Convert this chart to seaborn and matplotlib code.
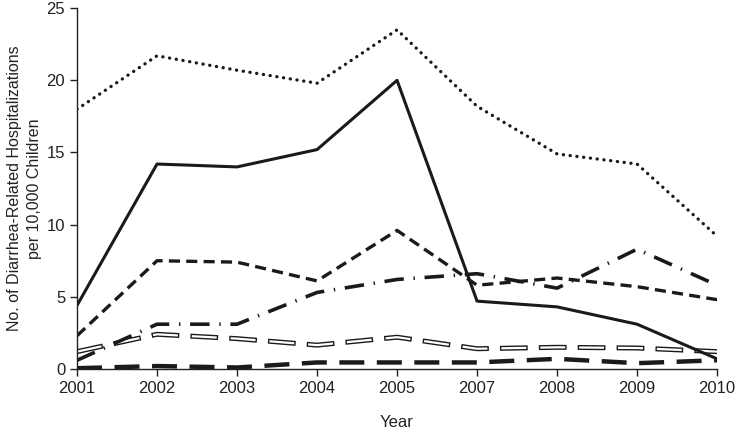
import pandas as pd
import seaborn as sns
import matplotlib.pyplot as plt

# data (2006 is absent in the source)
years = ['2001', '2002', '2003', '2004', '2005', '2007', '2008', '2009', '2010']
dotted = [18.0, 21.7, 20.7, 19.8, 23.5, 18.2, 14.9, 14.2, 9.2]
solid = [4.4, 14.2, 14.0, 15.2, 20.0, 4.7, 4.3, 3.1, 0.7]
short_dash = [2.3, 7.5, 7.4, 6.1, 9.6, 5.8, 6.3, 5.7, 4.8]
dash_dot = [0.6, 3.1, 3.1, 5.3, 6.2, 6.6, 5.6, 8.3, 5.8]
double_dash = [1.2, 2.4, 2.1, 1.65, 2.2, 1.4, 1.5, 1.45, 1.2]
long_dash = [0.05, 0.2, 0.1, 0.45, 0.45, 0.45, 0.7, 0.4, 0.6]

sns.set_style('ticks')
plt.rcParams['font.family'] = ['Liberation Sans', 'DejaVu Sans']
plt.rcParams['lines.scale_dashes'] = False

df = pd.DataFrame({'year': years, 'dotted': dotted, 'solid': solid,
                   'short_dash': short_dash, 'dash_dot': dash_dot,
                   'double_dash': double_dash, 'long_dash': long_dash})

fig = plt.figure(figsize=(7.37, 4.30), dpi=100)
ax = fig.add_axes([0.1045, 0.142, 0.8685, 0.839])

k = '#1a1a1a'
# outlined "double line" first so others sit above it
sns.lineplot(data=df, x='year', y='double_dash', ax=ax, color=k, lw=3.6,
             linestyle=(1, (20, 8)), dash_capstyle='butt', sort=False)
sns.lineplot(data=df, x='year', y='double_dash', ax=ax, color='white', lw=1.6,
             linestyle=(0, (18, 10)), dash_capstyle='butt', sort=False)
sns.lineplot(data=df, x='year', y='long_dash', ax=ax, color=k, lw=3.2,
             linestyle=(0, (18, 9)), sort=False)
sns.lineplot(data=df, x='year', y='dash_dot', ax=ax, color=k, lw=2.6,
             linestyle=(0, (14, 7, 1, 7)), sort=False)
sns.lineplot(data=df, x='year', y='short_dash', ax=ax, color=k, lw=2.4,
             linestyle=(0, (8, 4.5)), sort=False)
sns.lineplot(data=df, x='year', y='solid', ax=ax, color=k, lw=2.2, sort=False)
sns.lineplot(data=df, x='year', y='dotted', ax=ax, color=k, lw=2.4,
             linestyle=(0, (0.1, 4.8)), dash_capstyle='round', sort=False)

ax.set_xlim(0, len(years) - 1)
ax.set_ylim(0, 25)
ax.set_yticks([0, 5, 10, 15, 20, 25])
ax.set_xlabel('Year', fontsize=12, labelpad=14, color='#222222')
ax.set_ylabel('No. of Diarrhea-Related Hospitalizations\nper 10,000 Children',
              fontsize=11.5, color='#222222', linespacing=1.45, labelpad=3)
ax.tick_params(labelsize=12, colors='#222222', length=5, width=1)
for s in ['left', 'bottom']:
    ax.spines[s].set_color('#222222')
    ax.spines[s].set_linewidth(1)
sns.despine(ax=ax)

fig.savefig('out.png', dpi=100)
